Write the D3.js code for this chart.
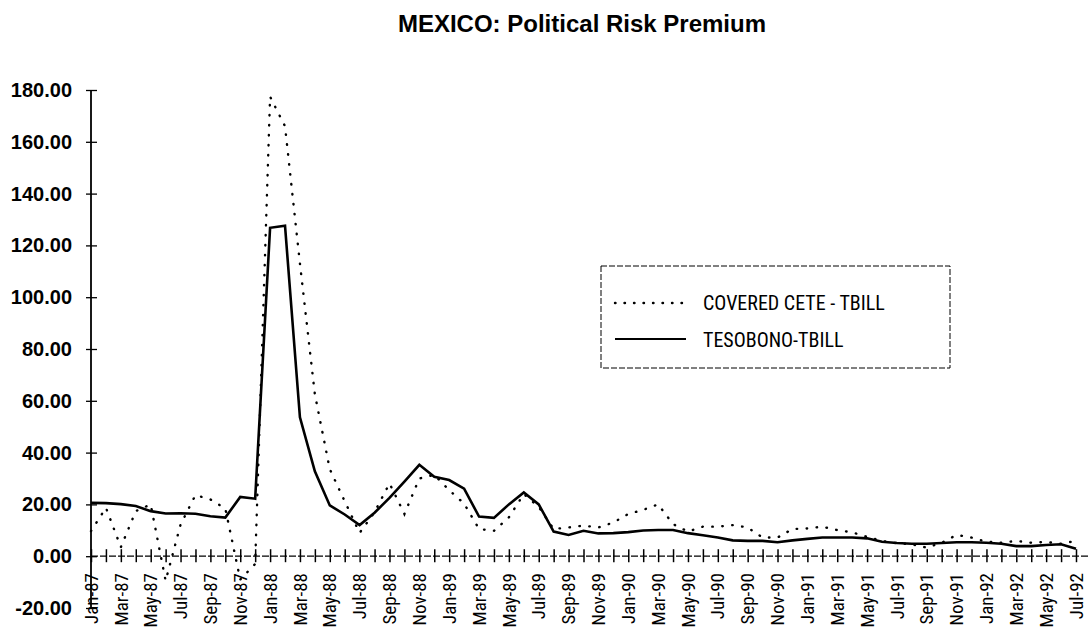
<!DOCTYPE html>
<html>
<head>
<meta charset="utf-8">
<script src="https://cdn.jsdelivr.net/npm/d3@7/dist/d3.min.js"></script>
<style>
  html, body { margin: 0; padding: 0; background: #fff; }
  svg { display: block; }
</style>
</head>
<body>
<svg id="chart" width="1088" height="632"></svg>
<script>
const titleText = "MEXICO: Political Risk Premium";
const categories = [
  "Jan-87","Feb-87","Mar-87","Apr-87","May-87","Jun-87","Jul-87","Aug-87","Sep-87","Oct-87","Nov-87","Dec-87",
  "Jan-88","Feb-88","Mar-88","Apr-88","May-88","Jun-88","Jul-88","Aug-88","Sep-88","Oct-88","Nov-88","Dec-88",
  "Jan-89","Feb-89","Mar-89","Apr-89","May-89","Jun-89","Jul-89","Aug-89","Sep-89","Oct-89","Nov-89","Dec-89",
  "Jan-90","Feb-90","Mar-90","Apr-90","May-90","Jun-90","Jul-90","Aug-90","Sep-90","Oct-90","Nov-90","Dec-90",
  "Jan-91","Feb-91","Mar-91","Apr-91","May-91","Jun-91","Jul-91","Aug-91","Sep-91","Oct-91","Nov-91","Dec-91",
  "Jan-92","Feb-92","Mar-92","Apr-92","May-92","Jun-92","Jul-92"
];
const tickLabels = [
  "Jan-87","Mar-87","May-87","Jul-87","Sep-87","Nov-87",
  "Jan-88","Mar-88","May-88","Jul-88","Sep-88","Nov-88",
  "Jan-89","Mar-89","May-89","Jul-89","Sep-89","Nov-89",
  "Jan-90","Mar-90","May-90","Jul-90","Sep-90","Nov-90",
  "Jan-91","Mar-91","May-91","Jul-91","Sep-91","Nov-91",
  "Jan-92","Mar-92","May-92","Jul-92"
];
const coveredCete = [
  9.7, 18.7, 3.5, 17.4, 20.0, -9.5, 12.2, 23.6, 21.9, 18.4, -9.0, -3.0,
  177.4, 166.0, 113.0, 62.5, 33.6, 21.2, 9.0, 17.0, 28.1, 16.3, 30.0, 31.4,
  25.5, 20.3, 10.5, 9.8, 15.0, 24.0, 19.0, 10.5, 11.1, 11.8, 11.1, 13.0,
  16.3, 17.9, 20.0, 12.4, 9.5, 11.4, 11.4, 12.0, 11.1, 7.2, 7.2, 10.5,
  10.7, 11.4, 10.1, 9.2, 7.5, 5.9, 5.0, 4.6, 3.3, 5.2, 8.2, 7.2,
  5.6, 5.2, 5.9, 5.2, 5.5, 4.8, 5.9
];
const tesobono = [
  20.6, 20.5, 20.1, 19.4, 17.4, 16.5, 16.6, 16.4, 15.4, 14.9, 22.9, 22.2,
  126.8, 127.6, 53.6, 32.8, 19.6, 16.1, 12.0, 16.8, 22.5, 28.8, 35.3, 30.7,
  29.4, 26.1, 15.3, 14.8, 20.0, 24.6, 20.0, 9.5, 8.2, 9.8, 8.8, 8.9,
  9.3, 9.9, 10.1, 10.1, 8.9, 8.1, 7.2, 6.1, 5.9, 5.9, 5.4, 6.1,
  6.7, 7.2, 7.2, 7.2, 6.9, 5.6, 5.1, 4.8, 4.8, 5.1, 5.4, 5.4,
  5.2, 4.8, 3.9, 3.9, 4.3, 4.6, 2.9
];
const yTicks = [-20, 0, 20, 40, 60, 80, 100, 120, 140, 160, 180];
const seriesNames = ["COVERED CETE - TBILL", "TESOBONO-TBILL"];

const svg = d3.select("#chart");
const narrow = "'Liberation Sans Narrow','Arial Narrow','Roboto Condensed','DejaVu Sans Condensed',sans-serif";
const sans = "'Liberation Sans',Arial,Helvetica,sans-serif";

const x = d3.scalePoint().domain(categories).range([91, 1076]);
const y = d3.scaleLinear().domain([-20, 180]).range([608, 90]);

// title
svg.append("text")
  .attr("x", 582).attr("y", 32)
  .attr("text-anchor", "middle")
  .style("font-family", sans).style("font-weight", "bold").style("font-size", "24px")
  .text(titleText);

// Y axis
const fmt = d3.format(".2f");
const yAxis = d3.axisLeft(y).tickValues(yTicks).tickFormat(d => fmt(d).replace("\u2212", "-")).tickSize(0).tickPadding(0);
const gy = svg.append("g").attr("transform", "translate(91,0)").call(yAxis);
gy.select(".domain").remove();
gy.selectAll(".tick text")
  .attr("x", -19)
  .style("font-family", sans).style("font-weight", "bold").style("font-size", "20px").style("fill", "#000");
gy.selectAll(".tick").append("line")
  .attr("x1", -5).attr("x2", 6).attr("stroke", "#000").attr("stroke-width", 1.3);
svg.append("line")
  .attr("x1", 91).attr("x2", 91).attr("y1", y(180)).attr("y2", y(-20))
  .attr("stroke", "#000").attr("stroke-width", 1.8);

// X axis at zero
const xAxis = d3.axisBottom(x).tickValues(categories).tickFormat("").tickSize(0);
const gx = svg.append("g").attr("transform", `translate(0,${y(0)})`).call(xAxis);
gx.select(".domain").remove();
svg.append("line")
  .attr("x1", 91).attr("x2", 1088).attr("y1", y(0)).attr("y2", y(0))
  .attr("stroke", "#000").attr("stroke-width", 1.2).attr("stroke-dasharray", "7,2");
gx.selectAll(".tick").append("line")
  .attr("y1", -7).attr("y2", 6).attr("stroke", "#000").attr("stroke-width", 1.5);

// X tick labels
const labelG = svg.append("g");
labelG.selectAll("text").data(tickLabels).join("text")
  .attr("transform", d => `translate(${x(d)},573) rotate(-90)`)
  .attr("text-anchor", "end")
  .attr("dy", "0.35em")
  .style("font-family", narrow).style("font-size", "19px")
  .text(d => d);

// lines
const line = d3.line().x((d, i) => x(categories[i])).y(d => y(d));
svg.append("path").datum(coveredCete)
  .attr("d", line).attr("fill", "none")
  .attr("stroke", "#000").attr("stroke-width", 2.4)
  .attr("stroke-linecap", "round").attr("stroke-dasharray", "0.5,9.5");
svg.append("path").datum(tesobono)
  .attr("d", line).attr("fill", "none")
  .attr("stroke", "#000").attr("stroke-width", 2.6).attr("stroke-linejoin", "miter");

// legend
const lg = svg.append("g");
lg.append("rect").attr("x", 601).attr("y", 266).attr("width", 349).attr("height", 102)
  .attr("fill", "#fff").attr("stroke", "#000").attr("stroke-width", 1).attr("stroke-dasharray", "6,2");
lg.append("line").attr("x1", 615).attr("x2", 684).attr("y1", 303).attr("y2", 303)
  .attr("stroke", "#000").attr("stroke-width", 2.4).attr("stroke-linecap", "round").attr("stroke-dasharray", "0.5,9");
lg.append("line").attr("x1", 615).attr("x2", 686).attr("y1", 339).attr("y2", 339)
  .attr("stroke", "#000").attr("stroke-width", 2.2);
lg.selectAll("text.leg").data(seriesNames).join("text")
  .attr("class", "leg")
  .attr("x", 703).attr("y", (d, i) => i === 0 ? 310 : 346.5)
  .style("font-family", narrow).style("font-size", "20px")
  .text(d => d);
</script>
</body>
</html>
